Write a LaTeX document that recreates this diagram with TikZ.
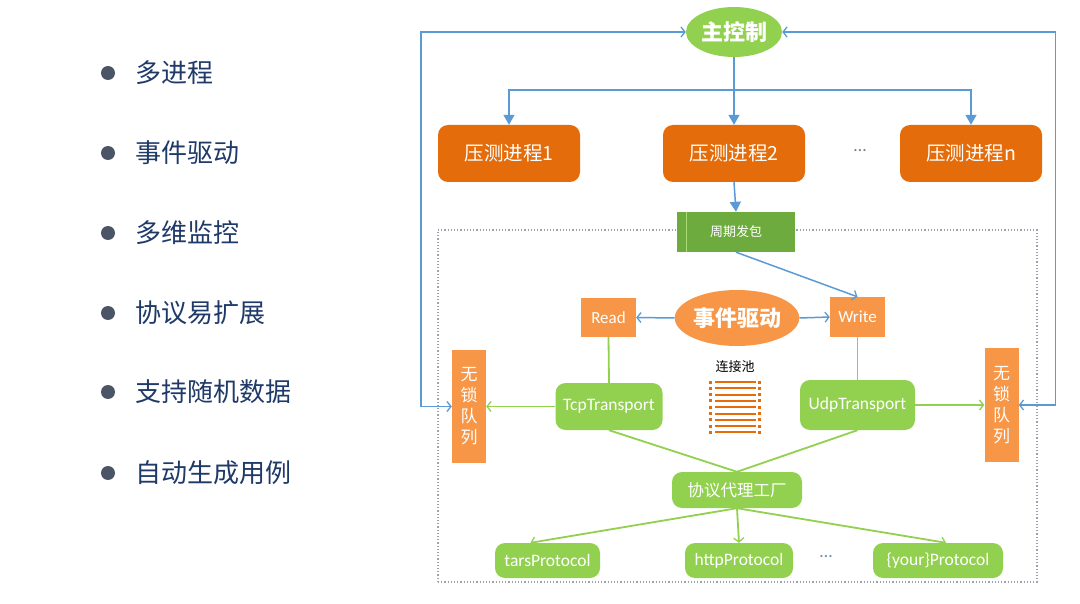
\documentclass[tikz,border=0pt]{standalone}
\usepackage{fontspec}
\setmainfont{Carlito}
\newfontfamily\cjk{Noto Sans CJK SC}
\usetikzlibrary{arrows.meta,shapes.geometric}
\definecolor{lgreen}{HTML}{92D050}
\definecolor{dgreen}{HTML}{6EAB3E}
\definecolor{dorange}{HTML}{E46C0A}
\definecolor{lorange}{HTML}{F79646}
\definecolor{lblue}{HTML}{5B9BD5}
\definecolor{navy}{HTML}{1F3A68}
\definecolor{bulletc}{HTML}{4A5568}
\definecolor{dotc}{HTML}{9AA3AE}
\newcommand{\fs}[1]{\fontsize{#1}{#1}\selectfont}
\begin{document}
\begin{tikzpicture}[x=1pt,y=-1pt,
  bul/.style={circle,fill=bulletc,minimum size=14pt,inner sep=0pt},
  bultext/.style={anchor=west,text=navy,inner sep=0pt,font=\cjk\fs{26}},
  procbox/.style={rounded corners=10pt,fill=dorange,text=white,inner sep=0pt,font=\cjk\fs{19.5}},
  gbox/.style={rounded corners=10pt,fill=lgreen,text=white,inner sep=0pt,font=\fs{17.5}},
  obox/.style={fill=lorange,text=white,inner sep=0pt},
  bline/.style={draw=lblue,line width=1.5pt},
  gline/.style={draw=lgreen,line width=1.8pt},
  openarr/.style={-{Straight Barb[length=4pt,width=10pt,line width=1.3pt]}},
  openboth/.style={{Straight Barb[length=4pt,width=10pt,line width=1.3pt]}-{Straight Barb[length=4pt,width=10pt,line width=1.3pt]}},
  filarr/.style={-{Triangle[length=10pt,width=11pt]}}
]
\useasboundingbox (0,0) rectangle (1080,604);
\fill[white] (0,0) rectangle (1080,604);

% bullet list
\foreach \y/\t [count=\i] in {73/多进程,153/事件驱动,233/多维监控,313/协议易扩展,392/支持随机数据,473/自动生成用例}{
  \node[bul] (b\i) at (108,\y) {};
  \node[bultext] (t\i) at (135,\y) {\t};
}

% dotted area
\node[draw=dotc,dotted,line width=1.2pt,minimum width=599pt,minimum height=352pt,inner sep=0pt] (area) at (737.5,406) {};

% main control
\node[ellipse,fill=lgreen,minimum width=96pt,minimum height=50pt,inner sep=0pt,text=white,font=\cjk\bfseries\fs{22}] (main) at (734,32) {主控制};

% processes
\node[procbox,minimum width=142pt,minimum height=57pt] (p1) at (509,153.5) {压测进程1};
\node[procbox,minimum width=142pt,minimum height=57pt] (p2) at (734,153.5) {压测进程2};
\node[procbox,minimum width=142pt,minimum height=57pt] (pn) at (971,153.5) {压测进程n};
\node[text=gray,font=\fs{18}] (pdots) at (860,151) {…};

\coordinate (br) at (734,90);
\draw[bline,filarr] (main.south) -- (p2.north);
\draw[bline,filarr] (br) -| (p1.north);
\draw[bline,filarr] (br) -| (pn.north);

% periodic send
\node[fill=dgreen,minimum width=118pt,minimum height=40pt,inner sep=0pt,text=white,font=\cjk\fs{13}] (send) at (736,232) {周期发包};
\draw[lgreen!80!white,line width=0.8pt] ([xshift=10pt]send.north west) -- ([xshift=10pt]send.south west);
\draw[bline,filarr] (p2.south) -- (send.north);

% event driven
\node[ellipse,fill=lorange,minimum width=100pt,minimum height=56pt,inner sep=0pt,text=white,font=\cjk\bfseries\fs{22}] (ev) at (737,318) {事件驱动};
\node[obox,minimum width=55pt,minimum height=39pt,font=\fs{17}] (rd) at (608.5,317.5) {Read};
\node[obox,minimum width=55pt,minimum height=40pt,font=\fs{17}] (wr) at (857.5,317) {Write};
\draw[bline,openarr] (ev.west) -- (rd.east);
\draw[bline,openarr] (ev.east) -- (wr.west);
\draw[bline,openarr] (send.south) -- (wr.north);

% transports
\node[gbox,minimum width=107pt,minimum height=47pt] (tcp) at (609,406.5) {TcpTransport};
\node[gbox,minimum width=115pt,minimum height=50pt] (udp) at (857.5,405) {UdpTransport};
\draw[gline] (rd.south) -- (tcp.north);
\draw[gline] (wr.south) -- (udp.north);

% queues
\node[obox,minimum width=34pt,minimum height=113pt,align=center,font=\cjk\fontsize{17}{21}\selectfont] (lq) at (469,406.5) {无\\锁\\队\\列};
\node[obox,minimum width=34pt,minimum height=114pt,align=center,font=\cjk\fontsize{17}{21}\selectfont] (rq) at (1001.5,405) {无\\锁\\队\\列};
\draw[gline,openarr] (tcp.west) -- (lq.east);
\draw[gline,openarr] (udp.east) -- (rq.west);

% feedback loops
\draw[bline,openboth] (lq.west) -- ([xshift=-31pt]lq.west) |- (main.west);
\draw[bline,openboth] (rq.east) -- ([xshift=37pt]rq.east) |- (main.east);

% connection pool
\node[font=\cjk\fs{13},text=black] (pool) at (735,367) {连接池};
\foreach \i in {0,...,8}{
  \fill[dorange] (709,382+6.3*\i-1.5) rectangle ++(3,3);
  \fill[dorange] (758,382+6.3*\i-1.5) rectangle ++(3,3);
  \fill[dorange] (714.5,382+6.3*\i-1) rectangle (755.5,382+6.3*\i+1);
}

% factory
\node[gbox,minimum width=130pt,minimum height=36pt,font=\cjk\fs{16.5}] (fac) at (737,490) {协议代理工厂};
\draw[gline] (tcp.south) -- (fac.north);
\draw[gline] (udp.south) -- (fac.north);

% protocols
\node[gbox,minimum width=105pt,minimum height=35pt] (tp) at (547.5,560.5) {tarsProtocol};
\node[gbox,minimum width=108pt,minimum height=35pt] (hp) at (739,560.5) {httpProtocol};
\node[gbox,minimum width=130pt,minimum height=35pt] (yp) at (938,560.5) {\{your\}Protocol};
\node[text=lblue!60!gray,font=\fs{18}] (qdots) at (826,557) {…};
\draw[gline,openarr] (fac.south) -- ([xshift=-17pt]tp.north);
\draw[gline,openarr] (fac.south) -- (hp.north);
\draw[gline,openarr] (fac.south) -- ([xshift=8pt]yp.north);
\end{tikzpicture}
\end{document}
